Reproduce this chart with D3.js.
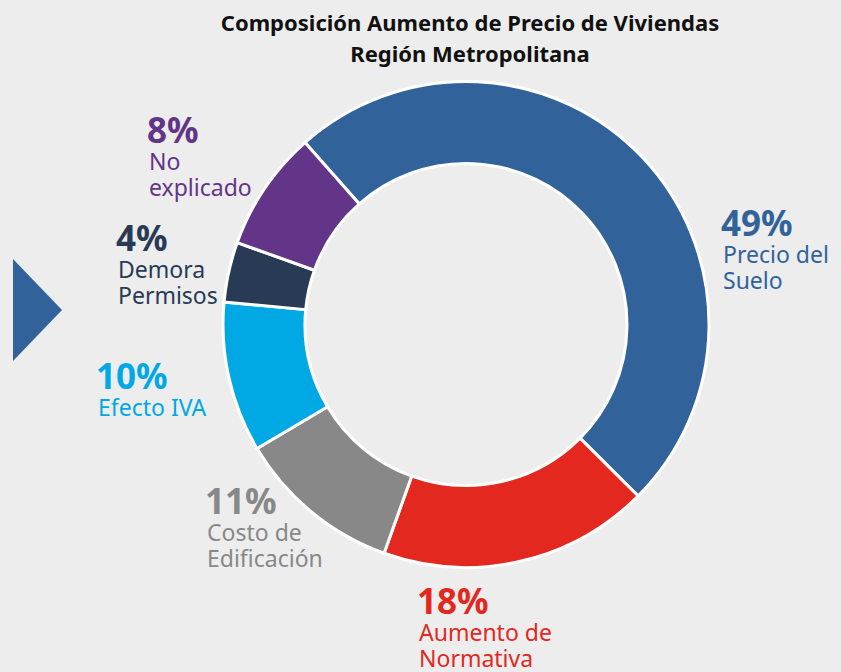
<!DOCTYPE html>
<html>
<head>
<meta charset="utf-8">
<script src="https://cdn.jsdelivr.net/npm/d3@7"></script>
<style>
  html, body { margin: 0; padding: 0; background: #ededed; }
  svg { display: block; font-family: "Noto Sans", "Open Sans", sans-serif; }
  .titulo { font-weight: bold; font-size: 22px; fill: #111; }
  .pct { font-weight: bold; font-size: 35px; }
  .etiqueta { font-size: 23px; }
</style>
</head>
<body>
<script>
// datos del grafico
var categorias = ["Precio del Suelo", "Aumento de Normativa", "Costo de Edificación",
                  "Efecto IVA", "Demora Permisos", "No explicado"];
var valores = [49, 18, 11, 10, 4, 8];
// como se parte cada etiqueta en lineas
var lineasEtiqueta = [["Precio del", "Suelo"], ["Aumento de", "Normativa"], ["Costo de", "Edificación"],
                      ["Efecto IVA"], ["Demora", "Permisos"], ["No", "explicado"]];
var colores = ["#31639a", "#e2281f", "#888888", "#00a8e4", "#283a54", "#633589"];

// posicion de cada etiqueta (esquina izquierda, linea base del porcentaje)
var posEtiquetas = [[723, 237], [419, 615], [207, 515], [98, 390], [118, 252], [149, 144]];

var vis = {
    ancho: 841,
    alto: 672,
    cx: 466,
    cy: 324.5,
    rExt: 243,
    rInt: 161,
    inicio: -41.5 * Math.PI / 180
};

var svg = d3.select("body")
    .append("svg")
    .attr("width", vis.ancho)
    .attr("height", vis.alto);

// titulo
svg.append("text")
    .attr("class", "titulo")
    .attr("text-anchor", "middle")
    .attr("x", 470)
    .attr("y", 31)
    .text("Composición Aumento de Precio de Viviendas");
svg.append("text")
    .attr("class", "titulo")
    .attr("text-anchor", "middle")
    .attr("x", 470)
    .attr("y", 62)
    .text("Región Metropolitana");

// flecha de la izquierda
svg.append("path")
    .attr("d", "M13,259 L62,310 L13,361 Z")
    .attr("fill", "#31639a");

var pie = d3.pie()
    .value(function(d) { return d; })
    .sort(null)
    .startAngle(vis.inicio)
    .endAngle(vis.inicio + 2 * Math.PI);

var arco = d3.arc()
    .innerRadius(vis.rInt)
    .outerRadius(vis.rExt);

var g = svg.append("g")
    .attr("transform", "translate(" + vis.cx + "," + vis.cy + ")");

g.selectAll("path")
    .data(pie(valores))
    .enter()
    .append("path")
    .attr("d", arco)
    .attr("fill", function(d, i) { return colores[i]; })
    .attr("stroke", "#ffffff")
    .attr("stroke-width", 3);

// etiquetas
var etiquetas = svg.selectAll("g.etq")
    .data(valores)
    .enter()
    .append("g")
    .attr("class", "etq")
    .attr("transform", function(d, i) {
        return "translate(" + posEtiquetas[i][0] + "," + posEtiquetas[i][1] + ")";
    })
    .attr("fill", function(d, i) { return colores[i]; });

etiquetas.append("text")
    .attr("class", "pct")
    .attr("x", -2)
    .attr("y", -1)
    .text(function(d) { return d + "%"; });

etiquetas.each(function(d, i) {
    var sel = d3.select(this);
    lineasEtiqueta[i].forEach(function(l, j) {
        sel.append("text")
            .attr("class", "etiqueta")
            .attr("y", 26 + j * 26)
            .text(l);
    });
});
</script>
</body>
</html>
